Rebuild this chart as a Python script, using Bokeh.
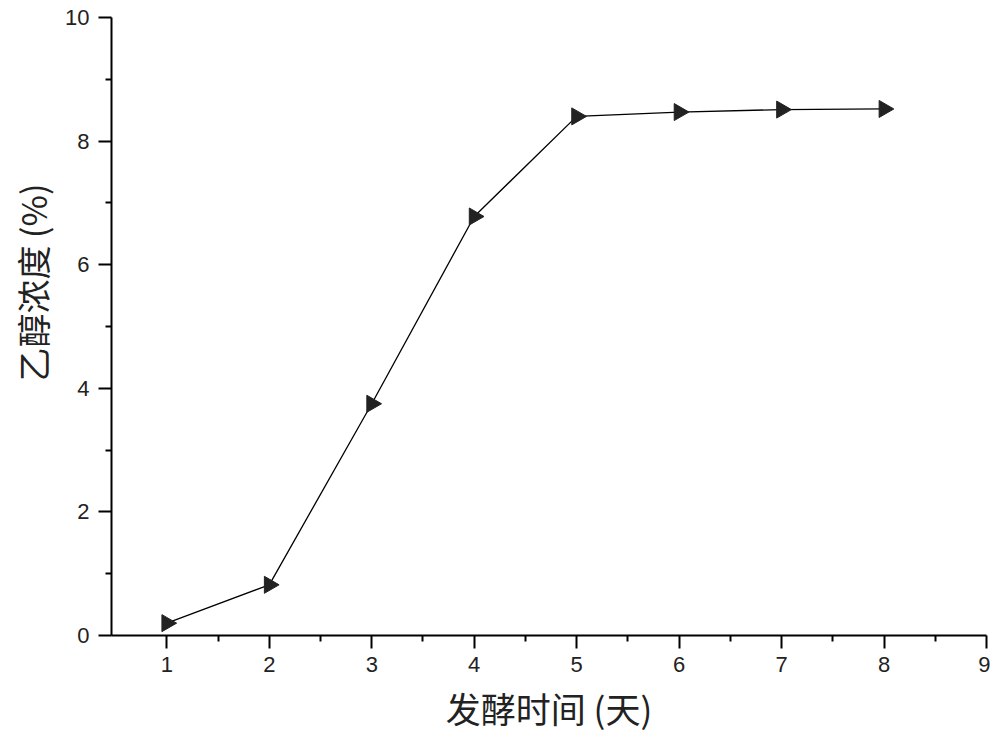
import math
from bokeh.plotting import figure
from bokeh.models import FixedTicker, Range1d, Title
from bokeh.embed import file_html
from bokeh.resources import INLINE

days = [1, 2, 3, 4, 5, 6, 7, 8]
ethanol = [0.2, 0.82, 3.75, 6.78, 8.4, 8.47, 8.51, 8.52]
x_ticks = [1, 2, 3, 4, 5, 6, 7, 8, 9]
x_minor = [1.5, 2.5, 3.5, 4.5, 5.5, 6.5, 7.5, 8.5]
y_ticks = [0, 2, 4, 6, 8, 10]
y_minor = [1, 3, 5, 7, 9]
x_label = "发酵时间 (天)"
y_label = "乙醇浓度 (%)"

p = figure(width=990, height=738, output_backend="svg", toolbar_location=None,
           x_range=Range1d(0.46, 9), y_range=Range1d(0, 10),
           min_border_left=111, min_border_top=17, min_border_right=4, min_border_bottom=101)
p.outline_line_color = None
p.grid.grid_line_color = None
p.background_fill_color = "white"
p.border_fill_color = "white"

p.line(days, ethanol, line_color="black", line_width=1.3)
p.scatter(days, ethanol, marker="triangle", angle=-math.pi / 2, size=17,
          fill_color="#222222", line_color="#222222")

for ax in (p.xaxis[0], p.yaxis[0]):
    ax.axis_line_width = 2
    ax.axis_line_color = "black"
    ax.major_tick_line_width = 2
    ax.minor_tick_line_width = 2
    ax.major_tick_in = 0
    ax.minor_tick_in = 0
    ax.major_tick_out = 13
    ax.minor_tick_out = 6
    ax.major_label_text_font = "Liberation Sans"
    ax.major_label_text_font_size = "22px"
    ax.major_label_text_color = "#222222"

p.xaxis[0].ticker = FixedTicker(ticks=x_ticks, minor_ticks=x_minor)
p.yaxis[0].ticker = FixedTicker(ticks=y_ticks, minor_ticks=y_minor)
p.xaxis[0].major_label_standoff = 8
p.yaxis[0].major_label_standoff = 9

# axis titles as side titles, so they can be offset like in the reference
p.add_layout(Title(text=x_label, align="center", offset=0, standoff=11,
                   text_font="Noto Sans CJK SC", text_font_size="35px",
                   text_font_style="normal", text_color="#222222"), "below")
p.add_layout(Title(text=y_label, align="left", offset=254, standoff=11,
                   text_font="Noto Sans CJK SC", text_font_size="34px",
                   text_font_style="normal", text_color="#222222"), "left")

open("out.html", "w").write(file_html(p, INLINE))
